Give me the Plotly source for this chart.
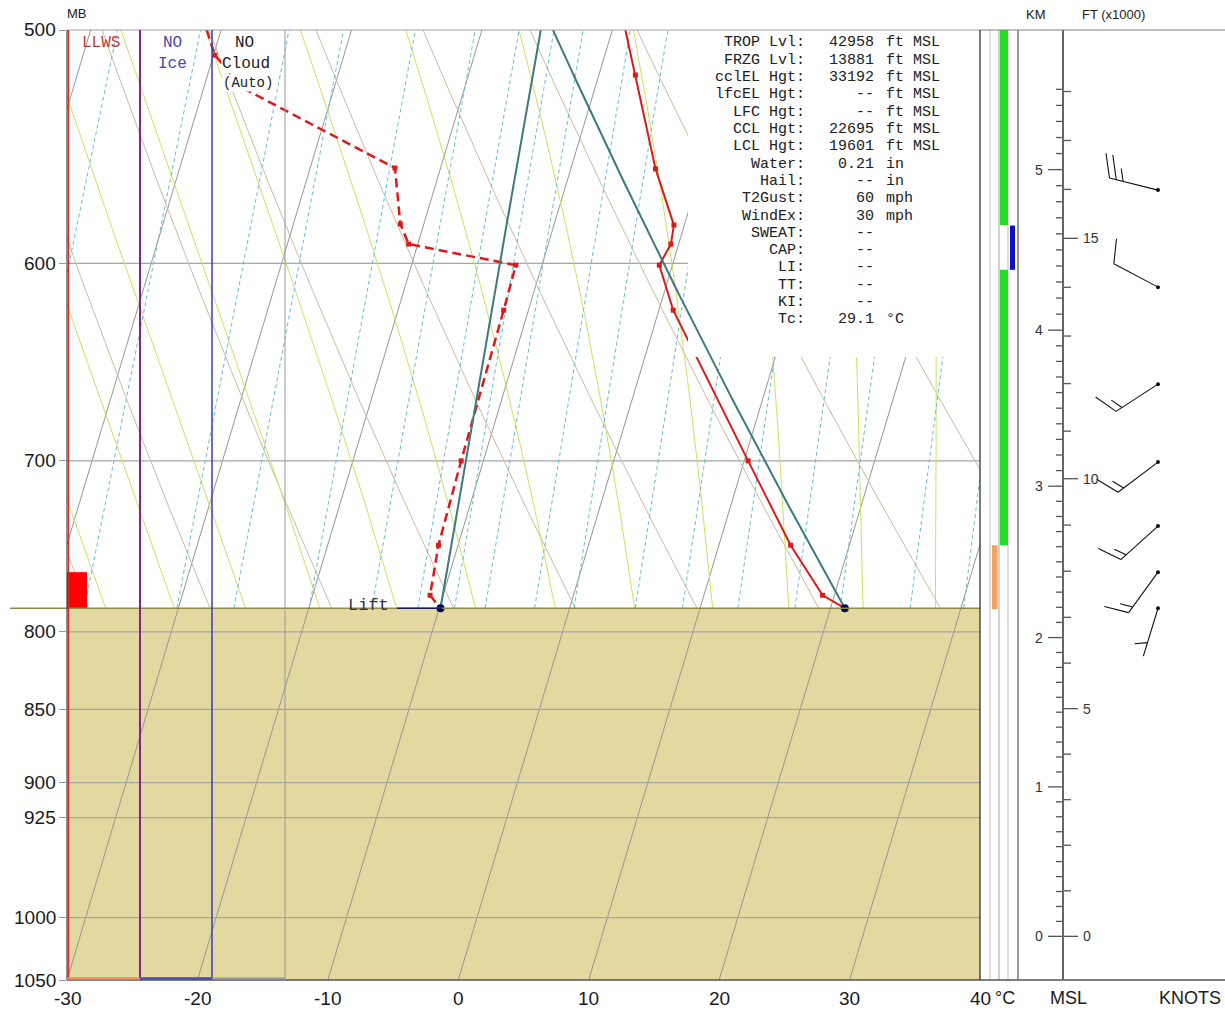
import numpy as np
import plotly.graph_objects as go

# ---------------- data ----------------
pressure_ticks = [500, 600, 700, 800, 850, 900, 925, 1000, 1050]
temp_ticks = [-30, -20, -10, 0, 10, 20, 30, 40]

sfc_p = 785.4                      # surface / lifted-parcel level (mb)
temp_p = [500.0, 517.9, 557.3, 582.3, 591.0, 600.8, 622.3, 700.0, 747.7, 777.5, 785.4]
temp_c = [-9.0, -7.2, -3.5, -0.8, -0.6, -1.0, 1.1, 10.3, 15.5, 19.1, 21.1]
dew_p = [500.0, 509.9, 523.2, 556.9, 581.8, 591.0, 600.8, 622.3, 700.0, 747.7, 777.5, 785.4]
dew_c = [-41.1, -39.9, -37.0, -23.5, -21.8, -20.7, -12.0, -11.9, -11.7, -11.5, -11.0, -9.9]

# winds (pressure of plotted station dot, direction deg, speed kt)
wind_p = [566.6, 611.2, 659.3, 700.7, 736.6, 763.6, 785.4]
wind_dir = [284, 298, 237, 233, 228, 216, 197]
wind_spd = [25, 10, 15, 15, 15, 15, 5]

# right-hand indicator bars (top p, bottom p)
green_bars = [(500.0, 582.3), (603.0, 747.7)]
blue_bars = [(582.5, 603.0)]
orange_bars = [(747.7, 786.0)]
llws_bar = (763.6, 785.4)

km_marks = [0, 1, 2, 3, 4, 5]
km_mark_p = [1014.8, 903.0, 803.6, 714.0, 632.1, 557.6]

index_labels = ["TROP Lvl:", "FRZG Lvl:", "cclEL Hgt:", "lfcEL Hgt:", "LFC Hgt:", "CCL Hgt:",
                "LCL Hgt:", "Water:", "Hail:", "T2Gust:", "WindEx:", "SWEAT:", "CAP:", "LI:",
                "TT:", "KI:", "Tc:"]
index_values = ["42958", "13881", "33192", "--", "--", "22695", "19601", "0.21", "--", "60",
                "30", "--", "--", "--", "--", "--", "29.1"]
index_units = ["ft MSL"] * 7 + ["in", "in", "mph", "mph", "", "", "", "", "", "°C"]

mixing_ratios = [0.1, 0.2, 0.4, 0.6, 1, 1.5, 2, 2.5, 3, 4, 5, 7, 9, 12, 16, 20, 28, 36]
dry_thetas = list(range(-40, 131, 10))
moist_t1000 = list(range(-30, 46, 5))
isotherms = list(range(-60, 41, 10))

# ---------------- geometry helpers ----------------
W, H = 1225, 1010
ML, MR, MT, MBm = 67, 0, 30, 30
PW, PH = W - ML - MR, H - MT - MBm
MAIN_R = 980
P_BOT, P_TOP = 1050.0, 500.0
LNR = np.log(P_BOT / P_TOP)
K = 29.4  # skew (deg C per ln p)

def xp(px): return (px - ML) / PW
def yp(py): return (H - MBm - py) / PH
def p2paper(p): return (np.log(P_BOT) - np.log(p)) / LNR
def p2px(p): return MT + PH * (1 - p2paper(p))
def t2px(t): return ML + (t + 30) * (MAIN_R - ML) / 70.0
def p_off(p0, dy): return p0 * np.exp(dy / PH * LNR)
def px2t(px): return -30 + (px - ML) * 70.0 / (MAIN_R - ML)
def skew(T, p): return np.asarray(T, float) + K * np.log(P_BOT / np.asarray(p, float))

def es(tc): return 6.112 * np.exp(17.67 * tc / (tc + 243.5))
def td_from_e(e):
    l = np.log(e / 6.112)
    return 243.5 * l / (17.67 - l)

SANS = "Liberation Sans, Arial, sans-serif"
MONO = "Liberation Mono, Courier New, monospace"

fig = go.Figure()

def add_lines(xs_list, ps_list, color, width=1, dash=None, xaxis='x'):
    X, Y = [], []
    for xs, ps in zip(xs_list, ps_list):
        X += list(xs) + [None]
        Y += list(ps) + [None]
    fig.add_trace(go.Scatter(x=X, y=Y, mode='lines', xaxis=xaxis, yaxis='y',
                             line=dict(color=color, width=width, dash=dash),
                             hoverinfo='skip', showlegend=False))

# ground
fig.add_trace(go.Scatter(x=[-30, 40, 40, -30, -30], y=[sfc_p, sfc_p, P_BOT, P_BOT, sfc_p],
                         mode='lines', fill='toself', fillcolor='rgb(227,217,160)',
                         line=dict(width=0), hoverinfo='skip', showlegend=False))

# isotherms
add_lines([skew([t, t], [P_BOT, P_TOP]) for t in isotherms], [[P_BOT, P_TOP]] * len(isotherms),
          'rgb(150,150,150)', 1)

# pressure lines
gl = [p for p in pressure_ticks if P_TOP < p < P_BOT]
add_lines([[-30, 40]] * len(gl), [[p, p] for p in gl], 'rgb(165,165,165)', 1.2)

pp = np.geomspace(sfc_p, P_TOP, 60)
# dry adiabats
add_lines([skew((th + 273.15) * (pp / 1000.0) ** 0.286 - 273.15, pp) for th in dry_thetas],
          [pp] * len(dry_thetas), 'rgb(200,188,160)', 1)

# moist adiabats
def pseudo(t0):
    ps = np.arange(1000.0, 499.0, -2.0)
    T = t0 + 273.15
    out = []
    for p in ps:
        out.append(T - 273.15)
        e = es(T - 273.15)
        rs = 0.622 * e / (p - e)
        num = 287.04 * T + 2.5e6 * rs
        den = 1005.7 + (2.5e6 ** 2) * rs * 0.622 / (287.04 * T * T)
        T += num / (den * p) * (-2.0)
    out = np.array(out)
    m = ps <= sfc_p
    return ps[m], out[m], ps, out
mx, mp = [], []
for t0 in moist_t1000:
    ps, ts, pall, tall = pseudo(t0)
    t_sfc = np.interp(sfc_p, pall[::-1], tall[::-1])
    ps = np.concatenate([[sfc_p], ps]); ts = np.concatenate([[t_sfc], ts])
    mx.append(skew(ts, ps)); mp.append(ps)
add_lines(mx, mp, 'rgb(205,225,95)', 1)

# mixing ratio lines
wx = []
for w in mixing_ratios:
    e = w * pp / (622.0 + w)
    wx.append(skew(td_from_e(e), pp))
add_lines(wx, [pp] * len(mixing_ratios), 'rgb(100,190,215)', 1, dash='4px,3px')

# LLWS indicator
fig.add_trace(go.Scatter(x=[-30, px2t(87), px2t(87), -30, -30],
                         y=[llws_bar[0], llws_bar[0], llws_bar[1], llws_bar[1], llws_bar[0]],
                         mode='lines', fill='toself', fillcolor='#ff0000', line=dict(width=0),
                         hoverinfo='skip', showlegend=False))

# temperature
fig.add_trace(go.Scatter(x=skew(temp_c, temp_p), y=temp_p, mode='lines+markers',
                         line=dict(color='#dd1a1a', width=2),
                         marker=dict(symbol='square', size=5, color='#dd1a1a'),
                         cliponaxis=False, hoverinfo='skip', showlegend=False))
# dewpoint
fig.add_trace(go.Scatter(x=skew(dew_c, dew_p), y=dew_p, mode='lines+markers',
                         line=dict(color='#dd1a1a', width=2.5, dash='9px,5px'),
                         marker=dict(symbol='square', size=5, color='#dd1a1a'),
                         cliponaxis=False, hoverinfo='skip', showlegend=False))

# text box background
bx0 = px2t(688)
fig.add_trace(go.Scatter(x=[bx0, 40, 40, bx0, bx0], y=[P_TOP, P_TOP, 645.5, 645.5, P_TOP],
                         mode='lines', fill='toself', fillcolor='white', line=dict(width=0),
                         hoverinfo='skip', showlegend=False))

# parcel path (dry adiabat from surface T, mixing ratio line from surface Td)
pp2 = np.geomspace(sfc_p, P_TOP, 60)
t_par = (temp_c[-1] + 273.15) * (pp2 / sfc_p) ** 0.286 - 273.15
w0 = 622.0 * es(dew_c[-1]) / (sfc_p - es(dew_c[-1]))
td_par = td_from_e(w0 * pp2 / (622.0 + w0))
add_lines([skew(t_par, pp2), skew(td_par, pp2)], [pp2, pp2], 'rgb(62,122,122)', 2)

# surface points
fig.add_trace(go.Scatter(x=skew([dew_c[-1], temp_c[-1]], [sfc_p, sfc_p]), y=[sfc_p, sfc_p],
                         mode='markers', marker=dict(size=8, color='#00005a'),
                         cliponaxis=False, hoverinfo='skip', showlegend=False))

# ---------------- right panel ----------------
def add_bars(bars, x0, x1, color):
    for pt, pb in bars:
        fig.add_trace(go.Scatter(x=[x0, x1, x1, x0, x0], y=[pt, pt, pb, pb, pt], xaxis='x2',
                                 yaxis='y', mode='lines', fill='toself', fillcolor=color,
                                 line=dict(width=0), hoverinfo='skip', showlegend=False))
add_bars(green_bars, 1000, 1008, '#22dd22')
add_bars(blue_bars, 1010, 1015, '#1010cc')
add_bars(orange_bars, 992, 997.5, '#f4a460')

def height_to_p(h):
    lnp = np.log(km_mark_p)
    if h <= km_marks[-1]:
        return float(np.exp(np.interp(h, km_marks, lnp)))
    return float(np.exp(lnp[-1] + (lnp[-1] - lnp[-2]) * (h - km_marks[-1])))

AX = 1063
tx, ty = [], []
for i in range(0, 56):
    h = i / 10.0
    p = height_to_p(h)
    x0 = AX - 15 if i % 10 == 0 else AX - 7
    tx += [x0, AX, None]; ty += [p, p, None]
for i in range(0, 19):
    p = height_to_p(i * 0.3048)
    x1 = AX + 15 if i % 5 == 0 else AX + 8
    tx += [AX, x1, None]; ty += [p, p, None]
fig.add_trace(go.Scatter(x=tx, y=ty, xaxis='x2', yaxis='y', mode='lines',
                         line=dict(color='#555555', width=1.3), hoverinfo='skip', showlegend=False))

# wind barbs
STN = 1158; SHAFT = 50; FULL = 25; HALF = 13; GAP = 7
bx, by = [], []
for p0, d, s in zip(wind_p, wind_dir, wind_spd):
    r = np.radians(d)
    ux, uy = np.sin(r), -np.cos(r)
    bx += [STN, STN + SHAFT * ux, None]; by += [p0, p_off(p0, SHAFT * uy), None]
    a = np.arctan2(uy, ux) + np.radians(68)
    vx, vy = np.cos(a), np.sin(a)
    nf, nh = int(s // 10), int((s % 10) >= 5)
    pos = SHAFT if nf > 0 else SHAFT - 2 * GAP
    for length in [FULL] * nf + [HALF] * nh:
        sx, sy = pos * ux, pos * uy
        bx += [STN + sx, STN + sx + length * vx, None]
        by += [p_off(p0, sy), p_off(p0, sy + length * vy), None]
        pos -= GAP
fig.add_trace(go.Scatter(x=bx, y=by, xaxis='x2', yaxis='y', mode='lines',
                         line=dict(color='#111111', width=1.1), hoverinfo='skip', showlegend=False))
fig.add_trace(go.Scatter(x=[STN] * len(wind_p), y=wind_p, xaxis='x2', yaxis='y', mode='markers',
                         marker=dict(size=4, color='#111111'), hoverinfo='skip', showlegend=False))

# ---------------- shapes ----------------
shapes = []
def hline(x0, x1, py, color, width=1, layer='above'):
    shapes.append(dict(type='line', xref='paper', yref='paper', x0=xp(x0), x1=xp(x1),
                       y0=yp(py), y1=yp(py), line=dict(color=color, width=width), layer=layer))
def vline(px, y0, y1, color, width=1, layer='above'):
    shapes.append(dict(type='line', xref='paper', yref='paper', x0=xp(px), x1=xp(px),
                       y0=yp(y0), y1=yp(y1), line=dict(color=color, width=width), layer=layer))

gy = p2px(sfc_p)
hline(10, MAIN_R, gy, 'rgb(140,140,70)', 1.5)
hline(ML, MAIN_R, 30, '#a0a0a0', 1.2)
hline(MAIN_R, W, 30, '#808080', 1.2)
hline(ML, W, 980, '#555555', 1.5)
vline(67, 30, 980, '#222222', 1)
vline(68.5, 30, 980, '#d03030', 1.5)
vline(140, 30, 980, '#882288', 2)
vline(212, 30, 980, '#3a3abb', 1.5)
vline(285, 30, 980, '#999999', 1)
hline(67, 140, 978.5, '#f08a5a', 2.5)
hline(140, 212, 978.5, '#4a4ab8', 2.5)
hline(212, 285, 978.5, '#999999', 2)
vline(MAIN_R, 30, 980, '#222222', 1.2)
for px_, c in [(990, '#c8c8c8'), (999, '#b4b4b4'), (1008, '#c8c8c8'), (1018, '#555555')]:
    vline(px_, 30, 980, c, 1.2, layer='below')
vline(AX, 30, 980, '#666666', 2)
hline(397, 442, gy, '#1c1c5c', 1.5)

# ---------------- annotations ----------------
anns = []
def ann(text, px, py, size, color='#222222', xanchor='center', family=SANS, ypaper=None,
        bg=None):
    d = dict(text=text, x=xp(px), y=yp(py) if ypaper is None else ypaper,
             xref='paper', yref='paper', showarrow=False, xanchor=xanchor,
             yanchor='middle', font=dict(family=family, size=size, color=color))
    if bg:
        d.update(bgcolor=bg, borderpad=0)
    anns.append(d)

# axis tick labels
for p in pressure_ticks:
    ann(str(p), 58, p2px(p), 19, '#1a1a1a', xanchor='right')
for t in temp_ticks:
    ann(str(t), t2px(t), 998, 19, '#1a1a1a')

ann("MB", 77, 14, 13)
ann("KM", 1036, 15, 13)
ann("FT (x1000)", 1113, 15, 13)
ann("°C", 1005, 998, 18, '#1a1a1a')
ann("MSL", 1068, 998, 18, '#1a1a1a')
ann("KNOTS", 1190, 998, 18, '#1a1a1a')

ann("LLWS", 101, 43, 16, '#c03838', family=MONO)
ann("NO", 172, 43, 16, '#4848a8', family=MONO)
ann("Ice", 172, 64, 16, '#4848a8', family=MONO)
ann("NO", 244, 43, 16, '#202020', family=MONO)
ann("Cloud", 246, 64, 16, '#202020', family=MONO, bg='white')
ann("(Auto)", 248, 83, 14, '#202020', family=MONO, bg='white')
ann("Lift", 391, 605, 17, '#30304a', xanchor='right', family=MONO)

for i, (lab, val, unit) in enumerate(zip(index_labels, index_values, index_units)):
    y = 43 + i * 17.3
    ann(lab, 807, y, 15, '#202020', xanchor='right', family=MONO)
    ann(val, 876, y, 15, '#202020', xanchor='right', family=MONO)
    if unit:
        ann(unit, 884, y, 15, '#202020', xanchor='left', family=MONO)

for h in km_marks:
    ann(str(h), 1045, 0, 14, '#333333', xanchor='right', ypaper=p2paper(height_to_p(h)))
for k in [0, 5, 10, 15]:
    ann(str(k), 1081, 0, 14, '#333333', xanchor='left', ypaper=p2paper(height_to_p(k * 0.3048)))

fig.update_layout(
    width=W, height=H, autosize=False,
    margin=dict(l=ML, r=MR, t=MT, b=MBm, pad=0),
    paper_bgcolor='white', plot_bgcolor='white',
    showlegend=False, shapes=shapes, annotations=anns,
    xaxis=dict(domain=[0, xp(MAIN_R)], range=[-30, 40], tickvals=temp_ticks,
               showticklabels=False, showgrid=False, zeroline=False,
               showline=False, ticks='', anchor='y'),
    xaxis2=dict(domain=[xp(MAIN_R), 1], range=[MAIN_R, W], visible=False, anchor='y'),
    yaxis=dict(type='log', range=[np.log10(P_BOT), np.log10(P_TOP)], tickvals=pressure_ticks,
               showticklabels=False, showgrid=False, zeroline=False,
               showline=False, ticks='outside', ticklen=7, tickcolor='#999999', anchor='x'),
)

fig.write_html("out.html", config={'displayModeBar': False},
               post_script="document.body.style.margin='0';document.body.style.padding='0';"
                           "document.documentElement.style.overflow='hidden';")
